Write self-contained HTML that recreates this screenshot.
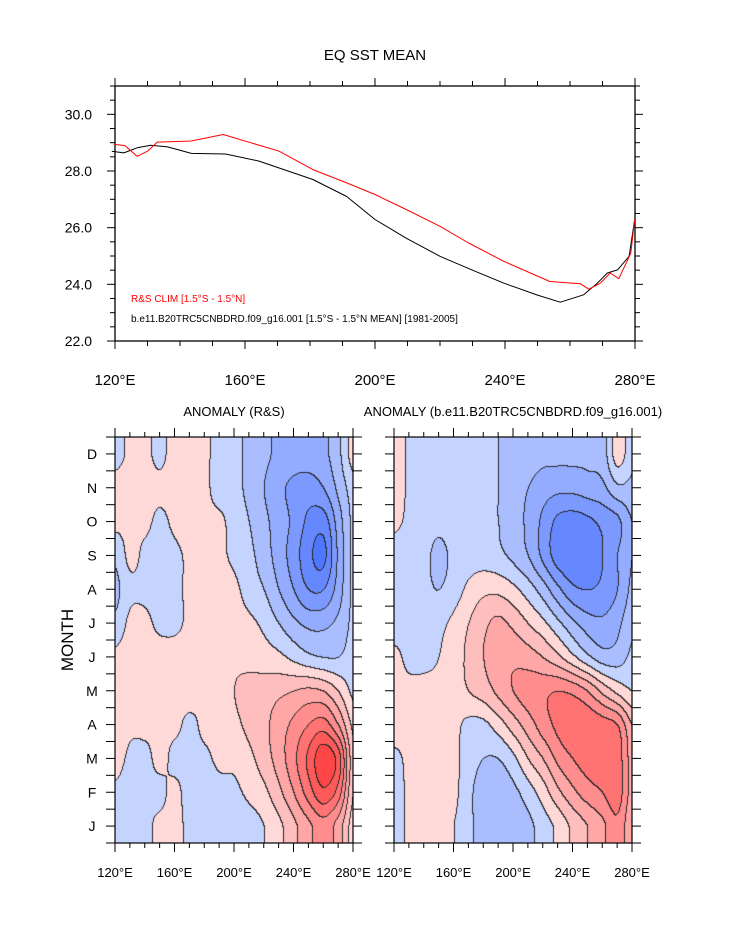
<!DOCTYPE html>
<html><head><meta charset="utf-8">
<style>
body{margin:0;background:#fff;}
#root{position:relative;width:733px;height:945px;overflow:hidden;background:#fff;font-family:"Liberation Sans",sans-serif;}
svg text{font-family:"Liberation Sans",sans-serif;}
canvas{position:absolute;}
</style></head>
<body>
<div id="root">
<canvas id="c1" width="238" height="406" style="left:115px;top:437px"></canvas>
<canvas id="c2" width="238" height="406" style="left:394px;top:437px"></canvas>
<svg id="svg" width="733" height="945" style="position:absolute;left:0;top:0"></svg>
</div>
<script>
// ---- top chart data ----
const redLon = [119.6,123,126.8,130,133.0,143.4,153.3,170.5,180.9,191.3,200,209.6,220,228.8,239.7,253.8,263.2,265.8,269.3,272.4,275,278.7,279.9];
const redVal = [28.94,28.9,28.52,28.7,29.02,29.06,29.29,28.70,28.05,27.58,27.17,26.64,26.05,25.46,24.81,24.10,24.02,23.83,24.04,24.40,24.20,25.10,26.29];
const blackLon = [119,122.7,126.8,131,136.2,143.5,154,164.3,180.9,191.3,200,209.6,220,229.8,239.7,250,257,264.2,268.4,271.5,274.6,278.2,279.9];
const blackVal = [28.70,28.64,28.82,28.91,28.85,28.62,28.60,28.35,27.70,27.10,26.29,25.63,24.99,24.51,24.04,23.62,23.37,23.63,24.04,24.40,24.51,24.99,26.29];
const yTicks = [22.0,24.0,26.0,28.0,30.0];
const xTickLon = [120,160,200,240,280];
const monthLabels = ["J","F","M","A","M","J","J","A","S","O","N","D"];
const gridLon = [120,130,140,150,160,170,180,190,200,210,220,230,240,250,260,270,280];
const rsD = [-0.2,0.1,0.1,-0.1,0.2,0.2,0.1,-0.2,-0.3,-0.5,-0.7,-0.9,-1.0,-1.0,-0.9,-0.5,0.2];
const rsN = [0.2,0.3,0.2,0.1,0.2,0.2,0.1,-0.2,-0.3,-0.5,-0.8,-1.1,-1.3,-1.4,-1.2,-0.7,-0.2];
const rsO = [0.1,0.1,0.1,-0.1,0.1,0.2,0.1,0.1,-0.2,-0.4,-0.7,-1.0,-1.3,-1.7,-1.8,-1.0,-0.3];
const rsS = [-0.3,0.1,-0.1,-0.2,-0.1,0.1,0.2,0.1,-0.1,-0.3,-0.6,-1.0,-1.4,-1.9,-2.1,-1.1,-0.3];
const rsA = [-0.5,-0.1,-0.1,-0.2,-0.1,0.1,0.2,0.2,0.1,-0.2,-0.4,-0.8,-1.2,-1.6,-1.6,-1.0,-0.3];
const rsJl = [-0.3,0.1,0.1,-0.1,-0.1,0.1,0.2,0.2,0.2,0.1,-0.1,-0.4,-0.7,-0.9,-0.9,-0.7,-0.3];
const rsJn = [0.1,0.2,0.2,0.2,0.2,0.2,0.2,0.2,0.3,0.3,0.2,0.1,-0.1,-0.3,-0.4,-0.4,-0.2];
const rsMy = [0.1,0.2,0.2,0.2,0.2,0.2,0.1,0.1,0.4,0.5,0.6,0.7,0.8,0.9,0.8,0.4,-0.1];
const rsAp = [0.3,0.1,0.1,0.1,0.1,-0.1,0.1,0.1,0.3,0.5,0.7,1.0,1.3,1.6,1.8,1.2,0.3];
const rsMr = [0.2,-0.1,-0.1,0.1,-0.1,-0.1,-0.1,0.1,0.1,0.3,0.6,1.0,1.5,2.1,2.7,2.2,0.5];
const rsF = [-0.1,-0.2,-0.1,-0.1,0.1,-0.2,-0.3,-0.2,-0.1,0.1,0.3,0.7,1.2,1.8,2.3,1.8,0.4];
const rsJa = [-0.2,-0.2,-0.1,0.1,0.1,-0.1,-0.3,-0.4,-0.3,-0.2,0.0,0.3,0.7,1.1,1.4,1.0,0.2];
const mdD = [0.3,-0.1,-0.2,-0.2,-0.2,-0.2,-0.3,-0.4,-0.5,-0.6,-0.7,-0.7,-0.7,-0.7,-0.6,0.2,-0.3];
const mdN = [0.3,-0.1,-0.2,-0.2,-0.2,-0.2,-0.3,-0.4,-0.6,-0.8,-1.0,-1.1,-1.1,-1.0,-0.9,-0.5,-0.5];
const mdO = [0.1,-0.1,-0.2,-0.3,-0.2,-0.2,-0.3,-0.4,-0.6,-0.9,-1.3,-1.7,-1.8,-1.7,-1.5,-1.3,-0.8];
const mdS = [-0.2,-0.2,-0.3,-0.5,-0.3,-0.2,-0.2,-0.3,-0.5,-0.8,-1.3,-1.8,-1.95,-1.9,-1.6,-1.2,-0.8];
const mdA = [-0.2,-0.2,-0.3,-0.4,-0.2,0.1,0.3,0.3,0.1,-0.2,-0.6,-1.1,-1.5,-1.6,-1.5,-1.2,-0.7];
const mdJl = [-0.2,-0.2,-0.2,-0.1,0.1,0.4,0.7,0.9,0.7,0.4,0.1,-0.3,-0.7,-1.0,-1.1,-0.9,-0.5];
const mdJn = [0.1,-0.1,-0.1,0.0,0.2,0.5,0.8,1.0,1.1,1.0,0.8,0.5,0.1,-0.3,-0.6,-0.6,-0.3];
const mdMy = [0.1,0.1,0.1,0.1,0.2,0.4,0.6,0.9,1.2,1.4,1.5,1.6,1.5,1.2,0.7,0.3,0.0];
const mdAp = [0.2,0.1,0.1,0.1,0.1,-0.1,-0.1,0.2,0.6,1.0,1.4,1.7,1.9,1.9,1.8,1.6,0.8];
const mdMr = [-0.1,0.1,0.2,0.1,0.1,-0.2,-0.4,-0.4,-0.1,0.4,0.8,1.3,1.6,1.8,1.85,1.8,1.0];
const mdF = [-0.2,0.1,0.2,0.2,0.1,-0.3,-0.6,-0.6,-0.5,-0.2,0.2,0.7,1.1,1.4,1.6,1.8,1.0];
const mdJa = [-0.2,0.1,0.2,0.1,0.0,-0.3,-0.6,-0.6,-0.6,-0.5,-0.2,0.1,0.5,0.8,1.1,1.5,0.8];
const rsGrid = [rsJa,rsF,rsMr,rsAp,rsMy,rsJn,rsJl,rsA,rsS,rsO,rsN,rsD];
const mdGrid = [mdJa,mdF,mdMr,mdAp,mdMy,mdJn,mdJl,mdA,mdS,mdO,mdN,mdD];

const NS='http://www.w3.org/2000/svg';
const svg=document.getElementById('svg');
function mk(tag,attrs,parent){const e=document.createElementNS(NS,tag);for(const k in attrs)e.setAttribute(k,attrs[k]);(parent||svg).appendChild(e);return e;}
function txt(x,y,s,size,anchor,fill){const t=mk('text',{x:x,y:y,'font-size':size,'text-anchor':anchor||'middle',fill:fill||'#000'});t.textContent=s;return t;}

// ---- top chart ----
const T={l:115,r:635,t:86,b:341,x0:120,x1:280,y0:22,y1:31};
const tx=v=>T.l+(v-T.x0)/(T.x1-T.x0)*(T.r-T.l);
const ty=v=>T.b-(v-T.y0)/(T.y1-T.y0)*(T.b-T.t);
let t=txt(375,60,'EQ SST MEAN',15);


const g1=mk('g',{});


for(let v=120;v<=280;v+=10){const x=tx(v);const L=(v%40===0)?8:5;
 mk('line',{x1:x,x2:x,y1:T.b,y2:T.b+L,stroke:'#000'},g1);mk('line',{x1:x,x2:x,y1:T.t,y2:T.t-L,stroke:'#000'},g1);}
for(let v=22;v<=31.001;v+=0.5){const y=ty(v);const L=(Math.abs(v%2)<0.01)?8:5;
 mk('line',{x1:T.l,x2:T.l-L,y1:y,y2:y,stroke:'#000'},g1);mk('line',{x1:T.r,x2:T.r+L,y1:y,y2:y,stroke:'#000'},g1);}
mk('rect',{x:T.l,y:T.t,width:T.r-T.l,height:T.b-T.t,fill:'none',stroke:'#000','stroke-width':1.3},g1);
yTicks.forEach(v=>{const e=txt(92,ty(v)+5,v.toFixed(1),14,'end');
 
 });
xTickLon.forEach(v=>{const e=txt(tx(v),385,v+'°E',15);
 
 });
function line(lons,vals,color,name){let d='';lons.forEach((l,i)=>{d+=(i?'L':'M')+tx(l).toFixed(1)+','+ty(vals[i]).toFixed(1);});
 const p=mk('path',{d:d,fill:'none',stroke:color,'stroke-width':1,'stroke-linejoin':'round'});
 
 }
line(blackLon,blackVal,'#000','model-sst-line');
line(redLon,redVal,'#f00','rs-clim-line');
t=txt(131,302,'R&S CLIM [1.5°S - 1.5°N]',10,'start','#f00');


t=txt(131,322,'b.e11.B20TRC5CNBDRD.f09_g16.001 [1.5°S - 1.5°N MEAN] [1981-2005]',10,'start','#000');



// ---- contour panels ----
const levels=[-2.0,-1.6,-1.2,-0.8,-0.4,0,0.4,0.8,1.2,1.6,2.0,2.4];
const colors=['#4f76ff','#6688ff','#7c99ff','#94acff','#aabeff','#c5d3ff','#ffd8d8','#ffbebe','#ffa6a6','#ff8d8d','#ff7373','#ff5a5a','#ff4646'];
function hex(c){return [parseInt(c.slice(1,3),16),parseInt(c.slice(3,5),16),parseInt(c.slice(5,7),16)];}
const rgb=colors.map(hex);
function cr(p0,p1,p2,p3,t){return 0.5*((2*p1)+(-p0+p2)*t+(2*p0-5*p1+4*p2-p3)*t*t+(-p0+3*p1-3*p2+p3)*t*t*t);}
function sample(grid,lon,m){
 let fx=(lon-120)/10;fx=Math.max(0,Math.min(16,fx));
 let fy=m-1;fy=Math.max(0,Math.min(11,fy));
 const i=Math.min(15,Math.floor(fx)),j=Math.min(10,Math.floor(fy));
 const a=fx-i,b=fy-j;
 const ci=k=>Math.max(0,Math.min(16,k)),cj=k=>Math.max(0,Math.min(11,k));
 const rows=[];
 for(let dj=-1;dj<=2;dj++){const r=grid[cj(j+dj)];rows.push(cr(r[ci(i-1)],r[ci(i)],r[ci(i+1)],r[ci(i+2)],a));}
 return cr(rows[0],rows[1],rows[2],rows[3],b);}
function lev(v){let k=0;while(k<levels.length&&v>=levels[k])k++;return k;}
function drawPanel(id,grid){
 const c=document.getElementById(id),ctx=c.getContext('2d'),W=c.width,H=c.height;
 const img=ctx.createImageData(W,H);const L=new Int8Array(W*H);
 for(let y=0;y<H;y++)for(let x=0;x<W;x++){
  const lon=120+(x+0.5)/W*160, m=12.5-(y+0.5)/H*12;
  L[y*W+x]=lev(sample(grid,lon,m));}
 for(let y=0;y<H;y++)for(let x=0;x<W;x++){
  const k=L[y*W+x];let edge=(x>0&&L[y*W+x-1]!==k)||(y>0&&L[(y-1)*W+x]!==k);
  const p=(y*W+x)*4;const c3=edge?[40,40,40]:rgb[k];
  img.data[p]=c3[0];img.data[p+1]=c3[1];img.data[p+2]=c3[2];img.data[p+3]=255;}
 ctx.putImageData(img,0,0);}
drawPanel('c1',rsGrid);drawPanel('c2',mdGrid);

function panelAxes(left,width,title,name){
 const top=437,bot=843,H=bot-top;
 const g=mk('g',{});
 
 
 for(let v=120;v<=280;v+=10){const x=left+(v-120)/160*width;const L=(v%40===0)?9:5;
  mk('line',{x1:x,x2:x,y1:bot,y2:bot+L,stroke:'#000'},g);mk('line',{x1:x,x2:x,y1:top,y2:top-L,stroke:'#000'},g);}
 for(let k=0;k<=24;k++){const y=top+k*H/24;
  mk('line',{x1:left,x2:left-9,y1:y,y2:y,stroke:'#000'},g);mk('line',{x1:left+width,x2:left+width+9,y1:y,y2:y,stroke:'#000'},g);}
 mk('rect',{x:left,y:top,width:width,height:H,fill:'none',stroke:'#000','stroke-width':1.2},g);
 xTickLon.forEach(v=>{const e=txt(left+(v-120)/160*width,877,v+'°E',13);
  
  });
 const tt=txt(left+width/2,416,title,13);
 
 }
panelAxes(115,238,'ANOMALY (R&S)','rs-panel-axes');
panelAxes(394,238,'ANOMALY (b.e11.B20TRC5CNBDRD.f09_g16.001)','model-panel-axes');
monthLabels.forEach((s,i)=>{const y=843-(i+0.5)*406/12;const e=txt(92,y+5,s,14);
 
 });
t=txt(0,0,'MONTH',17);
t.setAttribute('transform','translate(73,640) rotate(-90)');


</script>
</body></html>
